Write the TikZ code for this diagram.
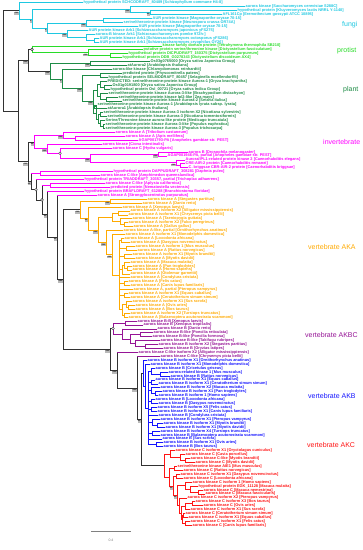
\documentclass[tikz,border=0pt]{standalone}
\usepackage{fontspec}
\setmainfont{Liberation Sans}
\usetikzlibrary{calc}
\definecolor{cfun}{RGB}{30,200,225}
\definecolor{cpro}{RGB}{40,220,40}
\definecolor{cpla}{RGB}{30,140,70}
\definecolor{cinv}{RGB}{255,0,255}
\definecolor{caka}{RGB}{255,170,0}
\definecolor{cakbc}{RGB}{150,20,150}
\definecolor{cakb}{RGB}{20,20,255}
\definecolor{cakc}{RGB}{255,20,20}
\definecolor{cbk}{RGB}{50,50,50}
\newcommand\leaffont{\fontsize{3.9}{4}\selectfont\bfseries}
\newcommand\bsfont{\fontsize{3.4}{3.4}\selectfont\bfseries}
\newcommand\grpfont{\fontsize{7}{8}\selectfont}
\newcommand\sbfont{\fontsize{3.5}{4}\selectfont}
\tikzset{
 br/.style={line width=0.75pt, line cap=rect},
 leaf/.style={anchor=west, inner sep=0.5pt, font=\leaffont, text height=2.9pt, text depth=0.9pt},
 bsl/.style={anchor=north east, fill=gray!55, text=black!80, inner sep=0.3pt, font=\bsfont},
 circ/.style={circle, draw=black!80, fill=white, line width=0.45pt, minimum size=2.8pt, inner sep=0pt},
 grp/.style={anchor=west, font=\grpfont, inner sep=0pt},
}
\newcount\leafidx
\newcommand\lv[4]{\pgfmathsetmacro\leafy{2.7+3.93*\the\leafidx}\node[leaf,text=#3] (#1) at (#2,\leafy) {#4};\global\advance\leafidx by 1\relax}
\newcommand\tn[7]{%
 \path let \p1=(#4), \p2=(#6) in (#2pt,{0.5*(\y1+\y2)}) coordinate (#1);%
 \draw[br,#3] (#1 |- #4) -- (#1 |- #6);%
 \draw[br,#5] (#1 |- #4) -- (#4);%
 \draw[br,#7] (#1 |- #6) -- (#6);}
\newcommand\tv[5]{%
 \path let \p1=(#4), \p2=(#5) in (#2pt,{0.5*(\y1+\y2)}) coordinate (#1);%
 \draw[br,#3] (#1 |- #4) -- (#1 |- #5);}
\newcommand\hb[3]{\draw[br,#1] (#2 |- #3) -- (#3);}
\newcommand\bs[2]{\node[bsl] at ([yshift=-0.5pt]#1) {#2};}
\newcommand\cc[1]{\node[circ] at (#1) {};}
\begin{document}
\begin{tikzpicture}[x=1pt,y=-1pt]
\useasboundingbox[fill=white] (0,0) rectangle (363,550);
% ---------------- leaves: fungi
\lv{f1}{83}{cfun}{hypothetical protein SCHCODRAFT\_80489 [Schizophyllum commune H4-8]}
\lv{f2}{245}{cfun}{aurora kinase [Saccharomyces cerevisiae S288C]}
\lv{f3}{237}{cfun}{hypothetical protein [Kluyveromyces lactis NRRL Y-1140]}
\lv{f4}{222}{cfun}{AFL161Cp [Eremothecium gossypii ATCC 10895]}
\lv{f5}{152}{cfun}{AUR protein kinase [Magnaporthe oryzae 70-15]}
\lv{f6}{123}{cfun}{serine/threonine-protein kinase [Neurospora crassa OR74A]}
\lv{f7}{138}{cfun}{AUR protein kinase [Magnaporthe oryzae 70-15]}
\lv{f8}{88}{cfun}{AUR protein kinase Ark1 [Schizosaccharomyces japonicus yFS275]}
\lv{f9}{95}{cfun}{aurora-B kinase Ark1 [Schizosaccharomyces pombe 972h-]}
\lv{f10}{99}{cfun}{AUR protein kinase Ark1 [Schizosaccharomyces octosporus yFS286]}
\lv{f11}{99}{cfun}{AUR protein kinase Ark1 [Schizosaccharomyces cryophilus OY26]}
% protist
\lv{p1}{162}{cpro}{kinase family domain protein [Tetrahymena thermophila SB210]}
\lv{p2}{143}{cpro}{putative protein serine/threonine kinase [Dictyostelium fasciculatum]}
\lv{p3}{128}{cpro}{hypothetical protein DICPUDRAFT\_150375 [Dictyostelium purpureum]}
\lv{p4}{122}{cpro}{hypothetical protein DDB\_G0278343 [Dictyostelium discoideum AX4]}
% plant
\lv{q1}{150}{cpla}{Os03g0765000 [Oryza sativa Japonica Group]}
\lv{q2}{127}{cpla}{atAurora2 [Arabidopsis thaliana]}
\lv{q3}{112}{cpla}{aurora-like kinase [Chlamydomonas reinhardtii]}
\lv{q4}{122}{cpla}{predicted protein [Physcomitrella patens]}
\lv{q5}{108}{cpla}{hypothetical protein SELMODRAFT\_80457 [Selaginella moellendorffii]}
\lv{q6}{107}{cpla}{PREDICTED: serine/threonine-protein kinase Aurora-1 [Oryza brachyantha]}
\lv{q7}{112}{cpla}{Os01g0191800 [Oryza sativa Japonica Group]}
\lv{q8}{110}{cpla}{hypothetical protein OsI\_00721 [Oryza sativa Indica Group]}
\lv{q9}{108}{cpla}{serine/threonine-protein kinase Aurora-3-like [Brachypodium distachyon]}
\lv{q10}{118}{cpla}{serine/threonine-protein kinase Ipl2-like [Zea mays]}
\lv{q11}{122}{cpla}{serine/threonine-protein kinase Aurora-2 [Setaria italica]}
\lv{q12}{97}{cpla}{serine/threonine-protein kinase Aurora-1 [Arabidopsis lyrata subsp. lyrata]}
\lv{q13}{107}{cpla}{atAurora1 [Arabidopsis thaliana]}
\lv{q14}{103}{cpla}{serine/threonine-protein kinase Aurora-3 isoform X2 [Nicotiana sylvestris]}
\lv{q15}{107}{cpla}{serine/threonine-protein kinase Aurora-3 [Nicotiana tomentosiformis]}
\lv{q16}{105}{cpla}{Serine/Threonine-kinase aurora-like protein [Medicago truncatula]}
\lv{q17}{105}{cpla}{serine/threonine-protein kinase Aurora-3-like [Populus euphratica]}
\lv{q18}{105}{cpla}{serine/threonine-protein kinase Aurora-3 [Populus trichocarpa]}
% invertebrate
\lv{i1}{115}{cinv}{aurora kinase A [Tribolium castaneum]}
\lv{i2}{125}{cinv}{aurora kinase A [Apis mellifera]}
\lv{i3}{138}{cinv}{AGAP001793-PA [Anopheles gambiae str. PEST]}
\lv{i4}{102}{cinv}{aurora kinase [Ciona intestinalis]}
\lv{i5}{112}{cinv}{aurora kinase C [Hydra vulgaris]}
\lv{i6}{188}{cinv}{aurora B [Drosophila melanogaster]}
\lv{i7}{167}{cinv}{AGAP001946-PA, partial [Anopheles gambiae str. PEST]}
\lv{i8}{185}{cinv}{Aurora/IPL1-related protein kinase 2 [Caenorhabditis elegans]}
\lv{i9}{185}{cinv}{CRE-AIR-2 protein [Caenorhabditis remanei]}
\lv{i10}{188}{cinv}{C. briggsae CBR-AIR-2 protein [Caenorhabditis briggsae]}
\lv{i11}{113}{cinv}{hypothetical protein DAPPUDRAFT\_308281 [Daphnia pulex]}
\lv{i12}{100}{cinv}{aurora kinase C-like [Amphimedon queenslandica]}
\lv{i13}{84}{cinv}{hypothetical protein TRIADDRAFT\_30357, partial [Trichoplax adhaerens]}
\lv{i14}{105}{cinv}{aurora kinase C-like [Aplysia californica]}
\lv{i15}{110}{cinv}{predicted protein [Nematostella vectensis]}
\lv{i16}{84}{cinv}{hypothetical protein BRAFLDRAFT\_61288 [Branchiostoma floridae]}
\lv{i17}{97}{cinv}{aurora kinase A [Strongylocentrotus purpuratus]}
% vertebrate AKA
\lv{a1}{147}{caka}{aurora kinase A [Stegastes partitus]}
\lv{a2}{142}{caka}{aurora kinase A [Danio rerio]}
\lv{a3}{122}{caka}{aurora kinase A [Xenopus laevis]}
\lv{a4}{130}{caka}{aurora kinase A isoform X2 [Alligator mississippiensis]}
\lv{a5}{128}{caka}{aurora kinase A isoform X1 [Chrysemys picta bellii]}
\lv{a6}{132}{caka}{aurora kinase A [Taeniopygia guttata]}
\lv{a7}{128}{caka}{aurora kinase A isoform X2 [Falco peregrinus]}
\lv{a8}{133}{caka}{aurora kinase A [Gallus gallus]}
\lv{a9}{123}{caka}{aurora kinase A-like, partial [Ornithorhynchus anatinus]}
\lv{a10}{125}{caka}{aurora kinase A isoform X1 [Monodelphis domestica]}
\lv{a11}{124}{caka}{aurora kinase A [Loxodonta africana]}
\lv{a12}{130}{caka}{aurora kinase A [Dasypus novemcinctus]}
\lv{a13}{135}{caka}{aurora kinase A isoform 1 [Mus musculus]}
\lv{a14}{137}{caka}{aurora kinase A [Rattus norvegicus]}
\lv{a15}{132}{caka}{aurora kinase A isoform X1 [Myotis brandtii]}
\lv{a16}{135}{caka}{aurora kinase A [Myotis davidii]}
\lv{a17}{130}{caka}{aurora kinase A [Macaca mulatta]}
\lv{a18}{132}{caka}{aurora kinase A [Pan troglodytes]}
\lv{a19}{132}{caka}{aurora kinase A [Homo sapiens]}
\lv{a20}{130}{caka}{aurora kinase A [Otolemur garnettii]}
\lv{a21}{130}{caka}{aurora kinase A [Condylura cristata]}
\lv{a22}{128}{caka}{aurora kinase A [Felis catus]}
\lv{a23}{130}{caka}{aurora kinase A [Canis lupus familiaris]}
\lv{a24}{133}{caka}{aurora kinase A, partial [Pteropus vampyrus]}
\lv{a25}{128}{caka}{aurora kinase A isoform X1 [Equus caballus]}
\lv{a26}{130}{caka}{aurora kinase A [Ceratotherium simum simum]}
\lv{a27}{132}{caka}{aurora kinase A isoform X1 [Sus scrofa]}
\lv{a28}{135}{caka}{aurora kinase A [Ovis aries]}
\lv{a29}{135}{caka}{aurora kinase A [Bos taurus]}
\lv{a30}{130}{caka}{aurora kinase A isoform X2 [Tursiops truncatus]}
\lv{a31}{128}{caka}{aurora kinase A [Balaenoptera acutorostrata scammoni]}
% vertebrate AKBC
\lv{b1}{137}{cakbc}{aurora kinase B-B [Xenopus laevis]}
\lv{b2}{143}{cakbc}{aurora kinase B [Xenopus tropicalis]}
\lv{b3}{157}{cakbc}{aurora kinase B [Danio rerio]}
\lv{b4}{153}{cakbc}{aurora kinase B-like [Poecilia reticulata]}
\lv{b5}{152}{cakbc}{aurora kinase B-like [Poecilia formosa]}
\lv{b6}{160}{cakbc}{aurora kinase B-like [Takifugu rubripes]}
\lv{b7}{158}{cakbc}{aurora kinase B isoform X2 [Stegastes partitus]}
\lv{b8}{163}{cakbc}{aurora kinase B [Oryzias latipes]}
\lv{c1}{138}{cakbc}{aurora kinase C-like isoform X2 [Alligator mississippiensis]}
\lv{c2}{160}{cakbc}{aurora kinase C-like [Chrysemys picta bellii]}
% vertebrate AKB
\lv{k1}{147}{cakb}{aurora kinase B isoform X1 [Ornithorhynchus anatinus]}
\lv{k2}{150}{cakb}{aurora kinase B isoform X1 [Monodelphis domestica]}
\lv{k3}{155}{cakb}{aurora kinase B [Cricetulus griseus]}
\lv{k4}{168}{cakb}{aurora-related kinase 1 [Mus musculus]}
\lv{k5}{170}{cakb}{aurora kinase B [Rattus norvegicus]}
\lv{k6}{155}{cakb}{aurora kinase B isoform X1 [Equus caballus]}
\lv{k7}{158}{cakb}{aurora kinase B isoform X1 [Ceratotherium simum simum]}
\lv{k8}{160}{cakb}{aurora kinase B isoform X2 [Macaca mulatta]}
\lv{k9}{162}{cakb}{aurora kinase B isoform X1 [Pan troglodytes]}
\lv{k10}{158}{cakb}{aurora kinase B isoform 1 [Homo sapiens]}
\lv{k11}{155}{cakb}{aurora kinase B [Loxodonta africana]}
\lv{k12}{158}{cakb}{aurora kinase B [Dasypus novemcinctus]}
\lv{k13}{157}{cakb}{aurora kinase B isoform X5 [Felis catus]}
\lv{k14}{157}{cakb}{aurora kinase B isoform X1 [Canis lupus familiaris]}
\lv{k15}{158}{cakb}{aurora kinase B [Condylura cristata]}
\lv{k16}{160}{cakb}{aurora kinase B isoform X1 [Pteropus vampyrus]}
\lv{k17}{163}{cakb}{aurora kinase B isoform X1 [Myotis brandtii]}
\lv{k18}{165}{cakb}{aurora kinase B isoform X1 [Myotis davidii]}
\lv{k19}{160}{cakb}{aurora kinase B isoform X4 [Tursiops truncatus]}
\lv{k20}{160}{cakb}{aurora kinase B [Balaenoptera acutorostrata scammoni]}
\lv{k21}{162}{cakb}{aurora kinase B [Sus scrofa]}
\lv{k22}{163}{cakb}{aurora kinase B isoform X1 [Ovis aries]}
\lv{k23}{163}{cakb}{aurora kinase B [Bos taurus]}
% vertebrate AKC
\lv{r1}{175}{cakc}{aurora kinase C isoform X1 [Oryctolagus cuniculus]}
\lv{r2}{185}{cakc}{aurora kinase C [Cavia porcellus]}
\lv{r3}{190}{cakc}{aurora kinase C-like [Myotis brandtii]}
\lv{r4}{195}{cakc}{aurora kinase C [Myotis davidii]}
\lv{r5}{177}{cakc}{serine/threonine kinase AIE1 [Mus musculus]}
\lv{r6}{183}{cakc}{aurora kinase C [Rattus norvegicus]}
\lv{r7}{180}{cakc}{aurora kinase C isoform X1 [Dasypus novemcinctus]}
\lv{r8}{183}{cakc}{aurora kinase C [Loxodonta africana]}
\lv{r9}{192}{cakc}{aurora kinase C isoform 1 [Homo sapiens]}
\lv{r10}{198}{cakc}{hypothetical protein EGK\_11128 [Macaca mulatta]}
\lv{r11}{203}{cakc}{aurora kinase C [Macaca nemestrina]}
\lv{r12}{205}{cakc}{aurora kinase C [Macaca fascicularis]}
\lv{r13}{187}{cakc}{aurora kinase C isoform X2 [Pteropus vampyrus]}
\lv{r14}{195}{cakc}{aurora kinase C isoform X3 [Bos taurus]}
\lv{r15}{203}{cakc}{aurora kinase C [Ovis aries]}
\lv{r16}{190}{cakc}{aurora kinase C isoform X1 [Sus scrofa]}
\lv{r17}{185}{cakc}{aurora kinase C [Ceratotherium simum simum]}
\lv{r18}{188}{cakc}{aurora kinase C isoform X1 [Equus caballus]}
\lv{r19}{190}{cakc}{aurora kinase C isoform X1 [Felis catus]}
\lv{r20}{192}{cakc}{aurora kinase C [Canis lupus familiaris]}
% ---------------- internal nodes: fungi
\tn{fy2}{150}{cfun}{f3}{cfun}{f4}{cfun}
\tn{fy}{130}{cfun}{f2}{cfun}{fy2}{cfun}
\tn{fs2}{103}{cfun}{f5}{cfun}{f6}{cfun}
\tn{fs}{86}{cfun}{fs2}{cfun}{f7}{cfun}
\tn{fp3}{94}{cfun}{f10}{cfun}{f11}{cfun}
\tn{fp2}{86}{cfun}{f9}{cfun}{fp3}{cfun}
\tn{fp}{67}{cfun}{f8}{cfun}{fp2}{cfun}
\tn{ff3}{47}{cfun}{fs}{cfun}{fp}{cfun}
\tn{ff2}{32}{cfun}{fy}{cfun}{ff3}{cfun}
\tn{ff}{19}{cfun}{f1}{cfun}{ff2}{cfun}
% protist
\tn{pd2}{110}{cpro}{p3}{cpro}{p4}{cpro}
\tn{pd}{88}{cpro}{p2}{cpro}{pd2}{cpro}
\tn{pr}{32}{cpro}{p1}{cpro}{pd}{cpro}
% plant
\tn{qA}{90}{cpla}{q1}{cpla}{q2}{cpla}
\tn{qD}{100}{cpla}{q4}{cpla}{q5}{cpla}
\tn{qor2}{104}{cpla}{q7}{cpla}{q8}{cpla}
\tn{qor}{100}{cpla}{q6}{cpla}{qor2}{cpla}
\tn{qpo2}{106}{cpla}{q10}{cpla}{q11}{cpla}
\tn{qpo}{100}{cpla}{q9}{cpla}{qpo2}{cpla}
\tn{qmono}{97}{cpla}{qor}{cpla}{qpo}{cpla}
\tn{qara}{94}{cpla}{q12}{cpla}{q13}{cpla}
\tn{qnic}{100}{cpla}{q14}{cpla}{q15}{cpla}
\tn{qpop}{103}{cpla}{q17}{cpla}{q18}{cpla}
\tn{qros}{100}{cpla}{q16}{cpla}{qpop}{cpla}
\tn{qrest}{98}{cpla}{qnic}{cpla}{qros}{cpla}
\tn{qdic}{96}{cpla}{qara}{cpla}{qrest}{cpla}
\tn{qE}{93}{cpla}{qmono}{cpla}{qdic}{cpla}
\tn{qC}{82}{cpla}{qD}{cpla}{qE}{cpla}
\tn{qB}{62}{cpla}{q3}{cpla}{qC}{cpla}
\tn{qpl}{50}{cpla}{qA}{cpla}{qB}{cpla}
\tn{pp}{28}{cbk}{pr}{cbk}{qpl}{cbk}
% invertebrate
\tn{ia2}{75}{cinv}{i2}{cinv}{i3}{cinv}
\tn{ia}{63}{cinv}{i1}{cinv}{ia2}{cinv}
\tn{idr}{158}{cinv}{i6}{cinv}{i7}{cinv}
\tn{inm2}{180}{cinv}{i9}{cinv}{i10}{cinv}
\tn{inm}{176}{cinv}{i8}{cinv}{inm2}{cinv}
\tn{iecd}{90}{cinv}{idr}{cinv}{inm}{cinv}
\tn{ic}{60}{cinv}{i5}{cinv}{iecd}{cinv}
\tn{ib}{47}{cinv}{i4}{cinv}{ic}{cinv}
\tn{iI}{34}{cinv}{ia}{cinv}{ib}{cinv}
\tn{ida}{40}{cinv}{i11}{cinv}{i12}{cinv}
\tn{ian}{50}{cinv}{i14}{cinv}{i15}{cinv}
% AKA
\tn{afish}{110}{caka}{a1}{caka}{a2}{caka}
\tn{arep}{118}{caka}{a4}{caka}{a5}{caka}
\tn{ab2}{124}{caka}{a7}{caka}{a8}{caka}
\tn{abird}{120}{caka}{a6}{caka}{ab2}{caka}
\tn{asau}{112}{caka}{arep}{caka}{abird}{caka}
\tn{ae1}{121}{caka}{a11}{caka}{a12}{caka}
\tn{ae2}{126}{caka}{a13}{caka}{a14}{caka}
\tn{ae3}{124}{caka}{a15}{caka}{a16}{caka}
\tn{ae4b}{127}{caka}{a18}{caka}{a19}{caka}
\tn{ae4a}{124}{caka}{a17}{caka}{ae4b}{caka}
\tn{ae4}{122}{caka}{ae4a}{caka}{a20}{caka}
\tn{ae5}{124}{caka}{a22}{caka}{a23}{caka}
\tn{ae6}{124}{caka}{a25}{caka}{a26}{caka}
\tn{ae7}{128}{caka}{a28}{caka}{a29}{caka}
\tn{ae7b}{126}{caka}{a27}{caka}{ae7}{caka}
\tn{ae8}{124}{caka}{a30}{caka}{a31}{caka}
\tn{ae9}{122}{caka}{ae7b}{caka}{ae8}{caka}
\tv{aeu}{119}{caka}{ae1}{ae9}
\hb{caka}{aeu}{ae1}\hb{caka}{aeu}{ae2}\hb{caka}{aeu}{ae3}\hb{caka}{aeu}{ae4}
\hb{caka}{aeu}{a21}\hb{caka}{aeu}{ae5}\hb{caka}{aeu}{a24}\hb{caka}{aeu}{ae6}\hb{caka}{aeu}{ae9}
\tn{ath}{112}{caka}{a10}{caka}{aeu}{caka}
\tn{amam}{106}{caka}{a9}{caka}{ath}{caka}
\tn{aamn}{98}{caka}{asau}{caka}{amam}{caka}
\tn{atet}{88}{caka}{a3}{caka}{aamn}{caka}
\tn{aAKA}{80}{caka}{afish}{caka}{atet}{caka}
% AKBC purple
\tn{bxen}{125}{cakbc}{b1}{cakbc}{b2}{cakbc}
\tn{bpoe}{140}{cakbc}{b4}{cakbc}{b5}{cakbc}
\tn{bac3}{145}{cakbc}{b7}{cakbc}{b8}{cakbc}
\tn{bac2}{135}{cakbc}{b6}{cakbc}{bac3}{cakbc}
\tn{bacan}{130}{cakbc}{bpoe}{cakbc}{bac2}{cakbc}
\tn{bfish}{122}{cakbc}{b3}{cakbc}{bacan}{cakbc}
\tn{bBp}{113}{cakbc}{bxen}{cakbc}{bfish}{cakbc}
% AKB blue
\tn{kr2}{160}{cakb}{k4}{cakb}{k5}{cakb}
\tn{krod}{151}{cakb}{k3}{cakb}{kr2}{cakb}
\tn{kper}{151}{cakb}{k6}{cakb}{k7}{cakb}
\tn{kp2}{155}{cakb}{k9}{cakb}{k10}{cakb}
\tn{kpri}{151}{cakb}{k8}{cakb}{kp2}{cakb}
\tn{kafx}{151}{cakb}{k11}{cakb}{k12}{cakb}
\tn{kcarn}{151}{cakb}{k13}{cakb}{k14}{cakb}
\tn{kbat2}{157}{cakb}{k17}{cakb}{k18}{cakb}
\tn{kbat}{152}{cakb}{k16}{cakb}{kbat2}{cakb}
\tn{kcet}{152}{cakb}{k19}{cakb}{k20}{cakb}
\tn{krum}{156}{cakb}{k22}{cakb}{k23}{cakb}
\tv{keu}{148}{cakb}{krod}{krum}
\hb{cakb}{keu}{krod}\hb{cakb}{keu}{kper}\hb{cakb}{keu}{kpri}\hb{cakb}{keu}{kafx}\hb{cakb}{keu}{kcarn}
\hb{cakb}{keu}{k15}\hb{cakb}{keu}{kbat}\hb{cakb}{keu}{kcet}\hb{cakb}{keu}{k21}\hb{cakb}{keu}{krum}
\tn{kB2}{145}{cakb}{k2}{cakb}{keu}{cakb}
\tn{kAKB}{143}{cakb}{k1}{cakb}{kB2}{cakb}
% AKC red
\tn{rCa3}{185}{cakc}{r3}{cakc}{r4}{cakc}
\tn{rCa2}{180}{cakc}{r2}{cakc}{rCa3}{cakc}
\tn{rCa}{170}{cakc}{r1}{cakc}{rCa2}{cakc}
\tn{rrod}{174}{cakc}{r5}{cakc}{r6}{cakc}
\tn{raf}{176}{cakc}{r7}{cakc}{r8}{cakc}
\tn{rpc3}{198}{cakc}{r11}{cakc}{r12}{cakc}
\tn{rpc2}{190}{cakc}{r10}{cakc}{rpc3}{cakc}
\tn{rpri}{185}{cakc}{r9}{cakc}{rpc2}{cakc}
\tn{rrum}{192}{cakc}{r14}{cakc}{r15}{cakc}
\tn{rl2a}{185}{cakc}{rrum}{cakc}{r16}{cakc}
\tn{rl3}{183}{cakc}{r17}{cakc}{r18}{cakc}
\tn{rl4}{185}{cakc}{r19}{cakc}{r20}{cakc}
\tn{rl2b}{182}{cakc}{rl3}{cakc}{rl4}{cakc}
\tn{rl2}{181}{cakc}{rl2a}{cakc}{rl2b}{cakc}
\tn{rlau}{179}{cakc}{r13}{cakc}{rl2}{cakc}
\tn{rCd}{177}{cakc}{rpri}{cakc}{rlau}{cakc}
\tn{rCc}{173}{cakc}{raf}{cakc}{rCd}{cakc}
\tn{rCb}{169}{cakc}{rrod}{cakc}{rCc}{cakc}
\tn{rAKC}{164}{cakc}{rCa}{cakc}{rCb}{cakc}
% BC backbone
\tn{kX}{141}{cbk}{kAKB}{cbk}{rAKC}{cbk}
\tn{bY}{137}{cbk}{c2}{cakbc}{kX}{cbk}
\tn{bBC2}{117}{cbk}{c1}{cakbc}{bY}{cbk}
\tn{bBC}{110}{cbk}{bBp}{cbk}{bBC2}{cbk}
% backbone
\tn{vV}{63}{cbk}{aAKA}{cbk}{bBC}{cbk}
\tn{L6}{57}{cbk}{i17}{cinv}{vV}{cbk}
\tn{L5}{47}{cbk}{i16}{cinv}{L6}{cbk}
\tn{L4}{42}{cbk}{ian}{cinv}{L5}{cbk}
\tn{L3}{36}{cbk}{i13}{cinv}{L4}{cbk}
\tn{L2}{31}{cbk}{ida}{cinv}{L3}{cbk}
\tn{an}{28}{cbk}{iI}{cbk}{L2}{cbk}
\tn{nB}{18}{cbk}{pp}{cbk}{an}{cbk}
\tn{root}{3}{cbk}{ff}{cbk}{nB}{cbk}
% ---------------- support labels
\bs{ff}{***}\bs{fy}{***}\bs{fy2}{**}\bs{ff2}{*}\bs{ff3}{*}\bs{fs}{***}\bs{fp}{***}
\bs{pp}{***}\bs{pd}{***}
\bs{qA}{***}\bs{qpl}{***}\bs{qB}{*}\bs{qC}{***}\bs{qE}{***}
\bs{iI}{**}\bs{ia}{***}\bs{ib}{***}\bs{iecd}{***}\bs{idr}{***}\bs{inm}{***}
\bs{an}{***}\bs{L2}{**}\bs{L5}{**}\bs{L6}{**}\bs{vV}{***}
\bs{aAKA}{***}\bs{afish}{***}\bs{atet}{**}\bs{aamn}{***}\bs{amam}{***}\bs{ath}{***}
\bs{bBC}{***}\bs{bBC2}{***}\bs{bY}{***}\bs{kX}{**}
\bs{rCc}{**}\bs{rCd}{**}
\cc{pr}\cc{ic}\cc{L3}\cc{L4}\cc{bBp}
% ---------------- group labels
\node[grp,text=cfun] (gfun) at (342,25) {fungi};
\node[grp,text=cpro] (gpro) at (337,51) {protist};
\node[grp,text=cpla] (gpla) at (343,90) {plant};
\node[grp,text=cinv] (ginv) at (323,142) {invertebrate};
\node[grp,text=caka] (gaka) at (308,247) {vertebrate AKA};
\node[grp,text=cakbc] (gakbc) at (305,335) {vertebrate AKBC};
\node[grp,text=cakb] (gakb) at (308,396) {vertebrate AKB};
\node[grp,text=cakc] (gakc) at (307,445) {vertebrate AKC};
% ---------------- scale bar
\coordinate (sb1) at (91,531);
\coordinate (sb2) at (131,531);
\draw[gray,line width=0.7pt] (sb1) -- (sb2);
\node[font=\sbfont,text=gray] (sbl) at (111,540) {0.4};
\end{tikzpicture}
\end{document}
